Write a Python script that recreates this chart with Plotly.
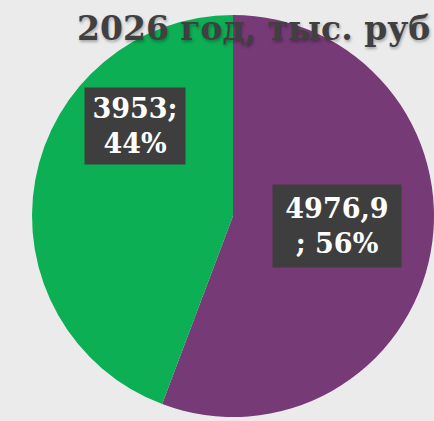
import plotly.graph_objects as go

# данные диаграммы
title_text = "2026 год, тыс. руб"
slice_names = ["Расходы 1", "Расходы 2"]
slice_values = [4976.9, 3953]
value_labels = ["4976,9", "3953"]
pct_labels = ["56%", "44%"]
slice_colors = ["#763a77", "#0caf54"]

W, H = 434, 421

fig = go.Figure(go.Pie(
    labels=slice_names,
    values=slice_values,
    marker=dict(colors=slice_colors, line=dict(width=0)),
    sort=False,
    direction="clockwise",
    rotation=0,
    textinfo="none",
    hoverinfo="label+value+percent",
    showlegend=False,
    domain=dict(x=[32 / W, 1], y=[1 - 417 / H, 1 - 15 / H]),
))

label_font = dict(family="DejaVu Serif", size=27, color="white", weight="bold")

# подписи долей в тёмных рамках
boxes = [
    # purple slice
    dict(text=value_labels[0] + "<br>; " + pct_labels[0], cx=337, cy=226, w=128, h=82),
    # green slice
    dict(text=value_labels[1] + ";<br>" + pct_labels[1], cx=135, cy=126, w=100, h=76),
]
for b in boxes:
    fig.add_annotation(
        text=b["text"], xref="paper", yref="paper",
        x=b["cx"] / W, y=1 - b["cy"] / H, xanchor="center", yanchor="middle",
        showarrow=False, align="center", width=b["w"] - 4, height=b["h"] - 4,
        bgcolor="#3e3e3e", borderpad=2, font=label_font,
    )

fig.add_annotation(
    text=title_text, xref="paper", yref="paper",
    x=75 / W, y=1 - 28 / H, xanchor="left", yanchor="middle",
    showarrow=False,
    font=dict(family="DejaVu Serif", size=33, color="#404040", weight="bold",
              shadow="1px 2px 3px rgba(0,0,0,0.3)"),
)

fig.update_layout(
    width=W, height=H,
    margin=dict(l=0, r=0, t=0, b=0),
    paper_bgcolor="#ebebeb",
    plot_bgcolor="#ebebeb",
)

# убрать отступы страницы
fig.write_html("out.html", config={"displayModeBar": False},
               post_script="document.body.style.margin='0';document.body.style.overflow='hidden';")
